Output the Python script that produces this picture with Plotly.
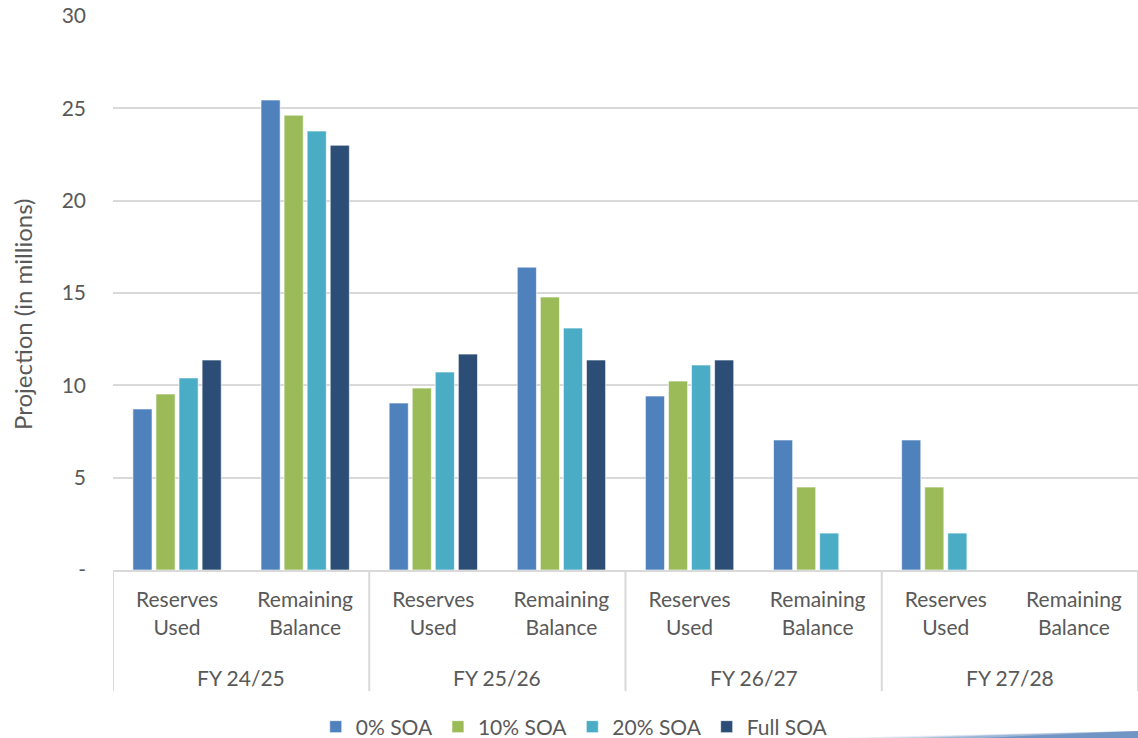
import plotly.graph_objects as go

years = ["FY 24/25", "FY 25/26", "FY 26/27", "FY 27/28"]
items = ["Reserves<br>Used", "Remaining<br>Balance"]
categories = [f"{y} | {i}" for y in years for i in items]
category_labels = [i for y in years for i in items]

series_names = ["0% SOA", "10% SOA", "20% SOA", "Full SOA"]
soa_0 = [8.72, 25.45, 9.04, 16.40, 9.42, 7.04, 7.04, 0]
soa_10 = [9.53, 24.63, 9.85, 14.78, 10.23, 4.49, 4.49, 0]
soa_20 = [10.40, 23.77, 10.72, 13.10, 11.10, 2.00, 2.00, 0]
soa_full = [11.37, 23.00, 11.69, 11.37, 11.37, 0, 0, 0]

tick_vals = [0, 5, 10, 15, 20, 25, 30]
tick_text = ["-", "5", "10", "15", "20", "25", "30"]
y_title = "Projection (in millions)"

colors = ["#4F81BD", "#9BBB59", "#4BACC6", "#2C4D75"]
font_family = "Lato, 'Noto Sans', sans-serif"
txt = "#595959"
grid = "#D9D9D9"

fig = go.Figure()
for name, vals, c in zip(series_names, [soa_0, soa_10, soa_20, soa_full], colors):
    fig.add_trace(go.Bar(
        x=categories, y=vals, name=name,
        marker=dict(color=c, line=dict(color="rgba(255,255,255,0.6)", width=1)),
    ))

W, H = 1138, 738
L, R, T, B = 113, 0, 16, 168
pw, ph = W - L - R, H - T - B

def px2paper(x, y):
    return (x - L) / pw, (H - B - y) / ph

# y-axis title
tx, ty = px2paper(22, 315)
fig.add_annotation(x=tx, y=ty, xref="paper", yref="paper", text=y_title,
                   textangle=-90, showarrow=False, xanchor="center", yanchor="middle",
                   font=dict(size=24, color=txt))

# year group labels and dividers
n_items = len(items)
for gi, y in enumerate(years):
    center = gi * n_items + (n_items - 1) / 2
    fig.add_annotation(x=center, xref="x", y=px2paper(0, 677)[1], yref="paper",
                       text=y, showarrow=False, yanchor="middle",
                       font=dict(size=21, color=txt))
div_bottom = px2paper(0, 691)[1]
for k in range(len(years) + 1):
    fig.add_shape(type="line", xref="x", yref="paper",
                  x0=k * n_items - 0.5, x1=k * n_items - 0.5, y0=0, y1=div_bottom,
                  line=dict(color=grid, width=2), layer="above")

# decorative swoosh bottom-right (layered for a fade-in effect)
for x_start, op in [(840, 0.12), (880, 0.2), (920, 0.3), (980, 0.45)]:
    x1, y1 = px2paper(x_start, 738)
    x2, y2 = px2paper((x_start + 1138) / 2, 734)
    x3, y3 = px2paper(1138, 731)
    x4, y4 = px2paper(1138, 738)
    path = f"M {x1},{y1} Q {x2},{y2} {x3},{y3} L {x4},{y4} Z"
    fig.add_shape(type="path", xref="paper", yref="paper", path=path,
                  fillcolor="#3E6FB0", opacity=op, line=dict(width=0), layer="above")

fig.update_layout(
    width=W, height=H,
    margin=dict(l=L, r=R, t=T, b=B, autoexpand=False),
    paper_bgcolor="white", plot_bgcolor="white",
    font=dict(family=font_family, size=21, color=txt),
    barmode="group", bargap=0.28, bargroupgap=0.17,
    showlegend=True,
    legend=dict(orientation="h", x=0.45, xanchor="center", y=px2paper(0, 727)[1], yanchor="middle",
                font=dict(size=21, color=txt), traceorder="normal"),
    yaxis=dict(range=[0, 30], tickvals=tick_vals, ticktext=tick_text,
               showgrid=True, gridcolor=grid, gridwidth=1.5, zeroline=False,
               showline=False, ticks="", ticklabelstandoff=26, automargin=False,
               tickfont=dict(size=21, color=txt)),
    xaxis=dict(type="category", categoryorder="array", categoryarray=categories,
               tickvals=categories, ticktext=category_labels,
               range=[-0.5, len(categories) - 0.5],
               showline=True, linecolor=grid, linewidth=2, automargin=False,
               ticks="", ticklabelstandoff=10, tickfont=dict(size=21, color=txt)),
)

fig.write_html("out.html")
